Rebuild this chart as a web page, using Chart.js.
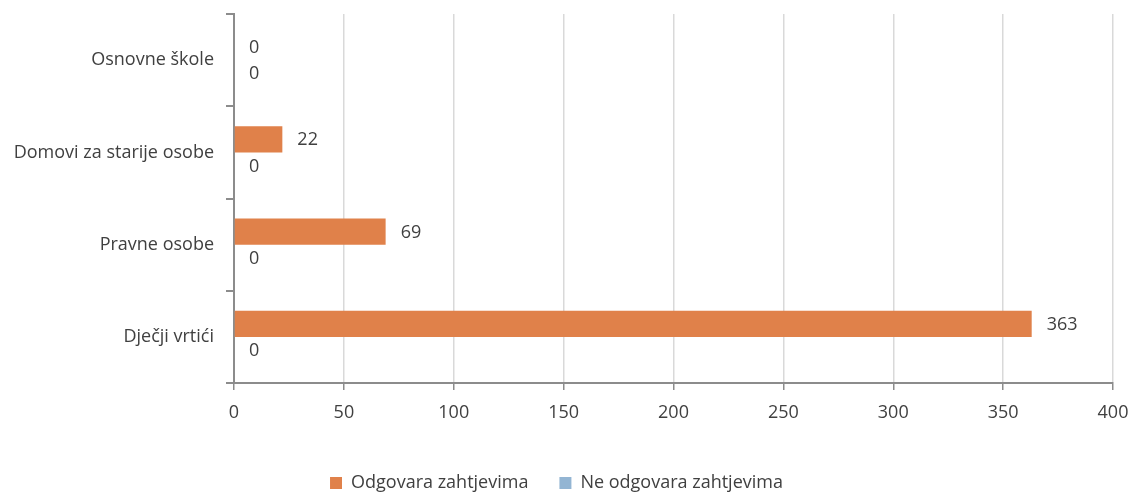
<!DOCTYPE html>
<html>
<head>
<meta charset="utf-8">
<script src="https://cdn.jsdelivr.net/npm/chart.js"></script>
<style>
  html, body { margin: 0; padding: 0; background: #fff; }
  #wrap { width: 1132px; height: 492px; }
</style>
</head>
<body>
<div id="wrap"><canvas id="chart" width="1132" height="492"></canvas></div>
<script>
// chart data
const categories = ['Osnovne škole', 'Domovi za starije osobe', 'Pravne osobe', 'Dječji vrtići'];
const seriesNames = ['Odgovara zahtjevima', 'Ne odgovara zahtjevima'];
const odgovara = [0, 22, 69, 363];
const neOdgovara = [0, 0, 0, 0];
const xTicks = [0, 50, 100, 150, 200, 250, 300, 350, 400];

const FONT = "'Open Sans', sans-serif";
const SIZE = 18;
const TEXT = '#404040';
const AXIS = '#8c8c8c';

// draws the value next to the end of each bar
const valueLabels = {
  id: 'valueLabels',
  afterDatasetsDraw(chart) {
    const ctx = chart.ctx;
    ctx.save();
    ctx.font = SIZE + 'px ' + FONT;
    ctx.fillStyle = TEXT;
    ctx.textAlign = 'left';
    ctx.textBaseline = 'middle';
    chart.data.datasets.forEach((ds, i) => {
      chart.getDatasetMeta(i).data.forEach((bar, j) => {
        ctx.fillText(String(ds.data[j]), bar.x + 15, bar.y + 1);
      });
    });
    ctx.restore();
  }
};

new Chart(document.getElementById('chart').getContext('2d'), {
  type: 'bar',
  data: {
    labels: categories,
    datasets: [
      { label: seriesNames[0], data: odgovara, backgroundColor: '#e0814a', categoryPercentage: 0.565, barPercentage: 1 },
      { label: seriesNames[1], data: neOdgovara, backgroundColor: '#93b5d3', categoryPercentage: 0.565, barPercentage: 1 }
    ]
  },
  options: {
    indexAxis: 'y',
    responsive: false,
    animation: false,
    layout: { padding: { left: 0, top: 14, right: 19, bottom: -10 } },
    plugins: {
      legend: {
        position: 'bottom',
        labels: {
          font: { family: FONT, size: SIZE },
          color: TEXT,
          boxWidth: 12,
          boxHeight: 12,
          padding: 31
        }
      },
      tooltip: { enabled: false }
    },
    scales: {
      x: {
        min: 0,
        max: 400,
        afterBuildTicks: s => { s.ticks = xTicks.map(v => ({ value: v })); },
        afterFit: s => { s.height = 60; s.paddingLeft = 0; s.paddingRight = 0; },
        grid: { color: '#d9d9d9', lineWidth: 1.5, tickColor: AXIS, tickLength: 7 },
        border: { color: AXIS, width: 2 },
        ticks: { font: { family: FONT, size: SIZE }, color: TEXT, padding: 12, maxRotation: 0 }
      },
      y: {
        afterFit: s => { s.width = 234; s.paddingTop = 0; s.paddingBottom = 0; },
        grid: { drawOnChartArea: false, offset: true, tickColor: AXIS, tickLength: 8, lineWidth: 2 },
        border: { color: AXIS, width: 2 },
        ticks: { font: { family: FONT, size: SIZE }, color: TEXT, padding: 12 }
      }
    }
  },
  plugins: [valueLabels]
});
</script>
</body>
</html>
